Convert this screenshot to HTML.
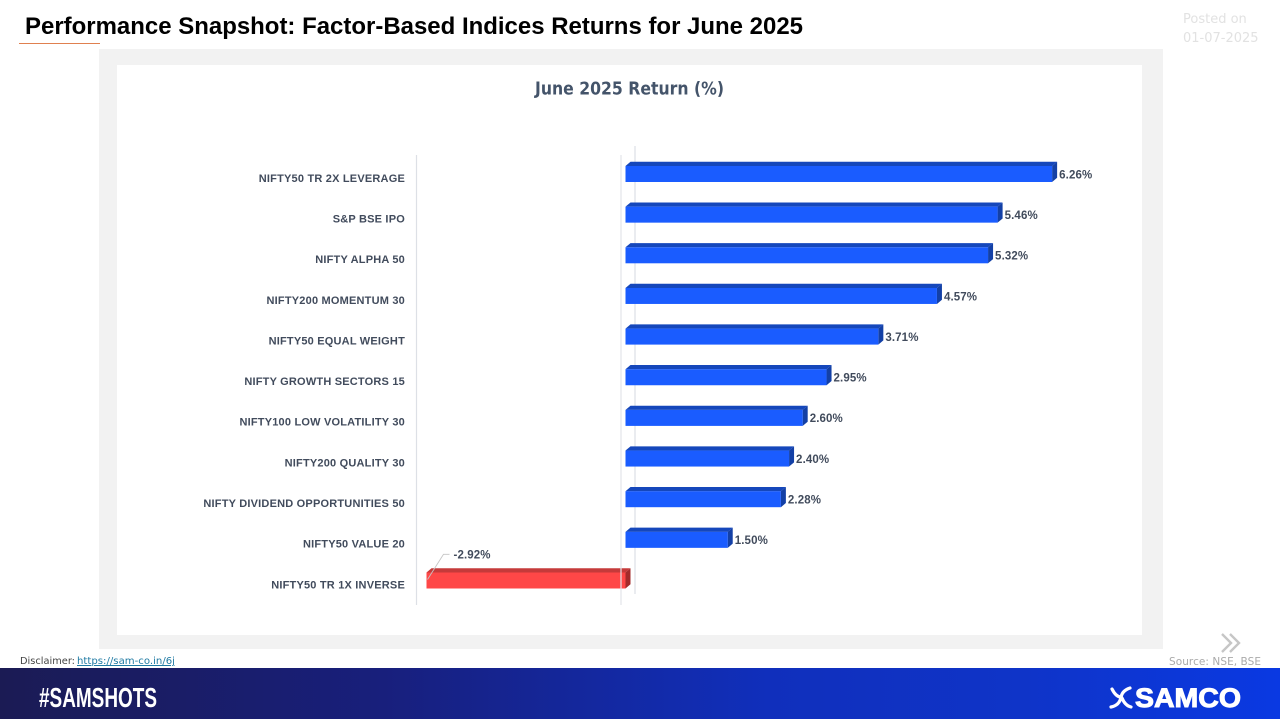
<!DOCTYPE html>
<html lang="en">
<head>
<meta charset="utf-8">
<title>Performance Snapshot</title>
<style>
html,body{margin:0;padding:0;background:#fff;width:1280px;height:720px;overflow:hidden}
svg{display:block}
text{font-family:"Liberation Sans",sans-serif}
.dv{font-family:"DejaVu Sans",sans-serif}
</style>
</head>
<body>
<svg id="chart" xmlns="http://www.w3.org/2000/svg" width="1280" height="720" viewBox="0 0 1280 720">
<defs>
<linearGradient id="footerGrad" x1="0" x2="1" y1="0" y2="0">
<stop offset="0" stop-color="#1b1b54"/>
<stop offset="0.3" stop-color="#181f7c"/>
<stop offset="0.6" stop-color="#102fbc"/>
<stop offset="0.8" stop-color="#0f34c8"/>
<stop offset="1" stop-color="#0a39e2"/>
</linearGradient>
</defs>
<rect x="0" y="0" width="1280" height="720" fill="#ffffff"/>
<text x="25" y="34" font-size="23.6" font-weight="700" fill="#000000" textLength="778" lengthAdjust="spacingAndGlyphs">Performance Snapshot: Factor-Based Indices Returns for June 2025</text>
<rect x="19" y="43" width="81" height="1" fill="#e0804f"/>
<text class="dv" x="1183" y="23" font-size="13" fill="#e2e2e2">Posted on</text>
<text class="dv" x="1183" y="42" font-size="13" fill="#e2e2e2">01-07-2025</text>
<rect x="99" y="49" width="1064" height="600" fill="#f2f2f2"/>
<rect x="117" y="65" width="1025" height="570" fill="#ffffff"/>
<text class="dv" x="629.5" y="94.5" font-size="17.5" font-weight="700" fill="#44546a" text-anchor="middle" textLength="189" lengthAdjust="spacingAndGlyphs">June 2025 Return (%)</text>
<g id="plot"></g>
<polyline points="1222,634 1231,643 1222,652" fill="none" stroke="#c6c6c6" stroke-width="2.4"/>
<polyline points="1230,634 1239,643 1230,652" fill="none" stroke="#c6c6c6" stroke-width="2.4"/>
<text class="dv" x="1169" y="665" font-size="10.5" fill="#aaaaaa" textLength="92" lengthAdjust="spacing">Source: NSE, BSE</text>
<text class="dv" x="20" y="664" font-size="10" fill="#444444" textLength="55" lengthAdjust="spacingAndGlyphs">Disclaimer:</text>
<a>
<text class="dv" x="77" y="664" font-size="10" fill="#1f7aa3" text-decoration="underline" textLength="98" lengthAdjust="spacingAndGlyphs">https://sam-co.in/6j</text>
</a>
<rect x="0" y="668" width="1280" height="51" fill="url(#footerGrad)"/>
<rect x="0" y="719" width="1280" height="1" fill="#ffffff"/>
<text x="39" y="707" font-size="27.5" font-weight="700" fill="#ffffff" textLength="118" lengthAdjust="spacingAndGlyphs">#SAMSHOTS</text>
<g fill="none" stroke="#ffffff" stroke-width="3.2" stroke-linecap="round">
<path d="M1112,689 C1115,695 1118,697 1121,697"/>
<path d="M1130,688 C1124,690 1121,694 1121,699"/>
<path d="M1121,697 C1120,703 1116,706 1111,707"/>
<path d="M1122,698 C1124,703 1127,706 1131,707"/>
</g>
<text x="1135" y="707" font-size="27" font-weight="700" fill="#ffffff" stroke="#ffffff" stroke-width="1" textLength="106" lengthAdjust="spacingAndGlyphs">SAMCO</text>
</svg>
<script>
const categories = ["NIFTY50 TR 2X LEVERAGE","S&P BSE IPO","NIFTY ALPHA 50","NIFTY200 MOMENTUM 30","NIFTY50 EQUAL WEIGHT","NIFTY GROWTH SECTORS 15","NIFTY100 LOW VOLATILITY 30","NIFTY200 QUALITY 30","NIFTY DIVIDEND OPPORTUNITIES 50","NIFTY50 VALUE 20","NIFTY50 TR 1X INVERSE"];
const returnsPct = [6.26,5.46,5.32,4.57,3.71,2.95,2.60,2.40,2.28,1.50,-2.92];

const NS = "http://www.w3.org/2000/svg";
const plot = document.getElementById("plot");
function xAxis(v){ return 625.5 + v * 68.15; }
function yAxis(i){ return 161.8 + i * 40.65; }
function make(tag, attrs, parent){
  const el = document.createElementNS(NS, tag);
  for (const k in attrs) el.setAttribute(k, attrs[k]);
  parent.appendChild(el);
  return el;
}
const depthX = 5, depthY = 4.2, frontH = 16;

const gridA = make("line", {x1:416.5,x2:416.5,y1:155,y2:605,stroke:"#dde0e6","stroke-width":1.2}, plot);


const gridB = make("line", {x1:635,x2:635,y1:146,y2:594,stroke:"#dde0e6","stroke-width":1.2}, plot);



categories.forEach(function(name, i){
  const v = returnsPct[i];
  const top = yAxis(i);
  const fy = top + depthY;
  const a = Math.min(xAxis(0), xAxis(v));
  const b = Math.max(xAxis(0), xAxis(v));
  const neg = v < 0;

  const cat = make("text", {x:405,y:top+20,"text-anchor":"end","font-size":11,"letter-spacing":0.2,"font-weight":700,fill:"#414b5c"}, plot);
  cat.textContent = name;
  
  

  const g = make("g", {}, plot);
  
  
  make("polygon", {points:[a,fy,a+depthX,top,b+depthX,top,b,fy].join(" "),fill:neg?"#c53a3a":"#1547bb"}, g);
  make("polygon", {points:[b,fy,b+depthX,top,b+depthX,top+frontH,b,fy+frontH].join(" "),fill:neg?"#a32b2b":"#1340a6"}, g);
  make("rect", {x:a,y:fy,width:b-a,height:frontH,fill:neg?"#ff4747":"#1a5cff"}, g);

  const label = make("text", {"font-size":11.5,"letter-spacing":0.12,"font-weight":700,fill:"#414b5c"}, plot);
  label.textContent = v.toFixed(2) + "%";
  
  
  if (neg) {
    label.setAttribute("x", a + 27);
    label.setAttribute("y", top - 10);
    const leader = make("polyline", {points:[a+1,fy+7,a+17,top-14,a+23,top-14].join(" "),fill:"none",stroke:"#c4c4c4","stroke-width":0.9}, plot);
    
    
  } else {
    label.setAttribute("x", b + 7);
    label.setAttribute("y", top + 16.5);
  }
});

const gridC = make("line", {x1:621,x2:621,y1:155,y2:605,stroke:"#e2e4ea","stroke-width":1.2}, plot);


</script>
</body>
</html>
